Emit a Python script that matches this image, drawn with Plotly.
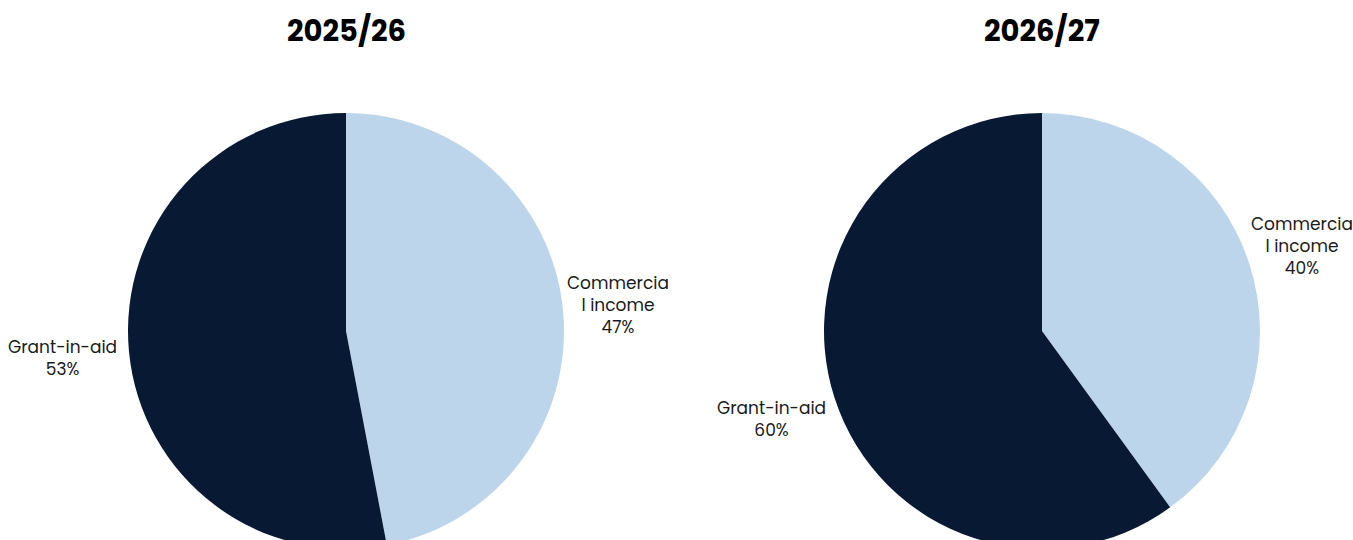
import math
import plotly.graph_objects as go

# ---- data ----
years = ["2025/26", "2026/27"]
categories = ["Commercial income", "Grant-in-aid"]
label_texts = ["Commercia<br>l income", "Grant-in-aid"]
values_2025 = [47, 53]
values_2026 = [40, 60]
colors = ["#BDD5EA", "#081A33"]

# ---- layout constants ----
W, H = 1353, 560
R = 218
centers_px = [(346, 331), (1042, 331)]
label_dist = [1.255, 1.305]
font_family = "Poppins, 'Open Sans', Lato, sans-serif"

fig = go.Figure()
annotations = []
for year, vals, (cx, cy) in zip(years, [values_2025, values_2026], centers_px):
    dom_x = [(cx - R) / W, (cx + R) / W]
    dom_y = [1 - (cy + R) / H, 1 - (cy - R) / H]
    fig.add_trace(go.Pie(
        labels=categories, values=vals, sort=False, direction="clockwise",
        rotation=0, marker=dict(colors=colors, line=dict(width=0)),
        textinfo="none", hoverinfo="label+percent", showlegend=False,
        domain=dict(x=dom_x, y=dom_y),
    ))
    annotations.append(dict(
        text=f"<b>{year}</b>", x=cx / W, y=1 - 31 / H, xref="paper", yref="paper",
        showarrow=False, font=dict(size=29, color="#000000", family=font_family),
        xanchor="center", yanchor="middle",
    ))
    total = sum(vals)
    cum = 0
    for txt, v, ld in zip(label_texts, vals, label_dist):
        mid = (cum + v / 2) / total * 2 * math.pi
        cum += v
        lx = cx + R * ld * math.sin(mid)
        ly = cy - R * ld * math.cos(mid)
        pct = round(v / total * 100)
        annotations.append(dict(
            text=f"{txt}<br>{pct}%", x=lx / W, y=1 - ly / H,
            xref="paper", yref="paper", showarrow=False, align="center",
            xanchor="center", yanchor="middle",
            font=dict(size=17, color="#1a1a1a", family=font_family),
        ))

fig.update_layout(
    width=W, height=H, margin=dict(l=0, r=0, t=0, b=0),
    paper_bgcolor="white", plot_bgcolor="white",
    annotations=annotations,
)

fig.write_html(
    "out.html",
    config={"displayModeBar": False},
    post_script="document.body.style.margin='0';document.body.style.overflow='hidden';document.documentElement.style.overflow='hidden';",
)
